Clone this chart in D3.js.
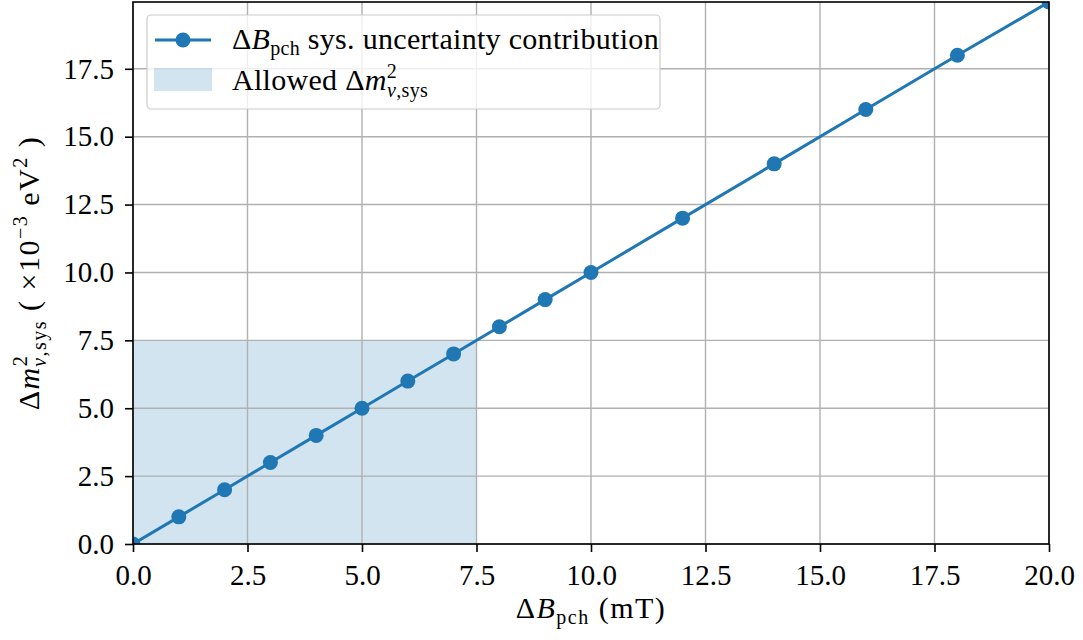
<!DOCTYPE html>
<html>
<head>
<meta charset="utf-8">
<script src="https://cdn.jsdelivr.net/npm/d3@7"></script>
<style>
    body { margin: 0; background: #fff; }
    text { font-family: "Liberation Serif", "DejaVu Serif", serif; fill: #000; }
</style>
</head>
<body>
<svg id="chart" width="1083" height="640"></svg>
<script>
// values
let fieldShift = [0, 1, 2, 3, 4, 5, 6, 7, 8, 9, 10, 12, 14, 16, 18, 20];
let massShift = [0, 1, 2, 3, 4, 5, 6, 7, 8, 9, 10, 12, 14, 16, 18, 19.96];
let allowedLimit = 7.5;
let xTicks = [0, 2.5, 5, 7.5, 10, 12.5, 15, 17.5, 20];
let yTicks = [0, 2.5, 5, 7.5, 10, 12.5, 15, 17.5];

const blue = '#1f77b4';
const fs = 29, fsSmall = 20;
let plotLeft = 133, plotRight = 1049, plotTop = 2, plotBottom = 544;

let svg = d3.select('#chart');
let x = d3.scaleLinear().domain([0, 20]).range([plotLeft, plotRight]);
let y = d3.scaleLinear().domain([0, 19.96]).range([plotBottom, plotTop]);

svg.append('defs').append('clipPath').attr('id', 'plotClip')
    .append('rect')
    .attr('x', plotLeft).attr('y', plotTop)
    .attr('width', plotRight - plotLeft).attr('height', plotBottom - plotTop);

// allowed region
svg.append('rect')
    .attr('x', x(0))
    .attr('y', y(allowedLimit))
    .attr('width', x(allowedLimit) - x(0))
    .attr('height', y(0) - y(allowedLimit))
    .style('fill', blue)
    .style('fill-opacity', 0.2);

// grid
let grid = svg.append('g');
grid.selectAll('line.gx').data(xTicks).join('line')
    .attr('class', 'gx')
    .attr('x1', d => x(d)).attr('x2', d => x(d))
    .attr('y1', plotTop).attr('y2', plotBottom)
    .style('stroke', '#b0b0b0').style('stroke-width', 1.4);
grid.selectAll('line.gy').data(yTicks).join('line')
    .attr('class', 'gy')
    .attr('x1', plotLeft).attr('x2', plotRight)
    .attr('y1', d => y(d)).attr('y2', d => y(d))
    .style('stroke', '#b0b0b0').style('stroke-width', 1.4);

// series
let points = fieldShift.map((d, i) => [d, massShift[i]]);
let plot = svg.append('g').attr('clip-path', 'url(#plotClip)');
plot.append('path')
    .attr('d', d3.line().x(d => x(d[0])).y(d => y(d[1]))(points))
    .style('fill', 'none')
    .style('stroke', blue)
    .style('stroke-width', 3);
plot.selectAll('circle').data(points).join('circle')
    .attr('cx', d => x(d[0]))
    .attr('cy', d => y(d[1]))
    .attr('r', 7.5)
    .style('fill', blue);

// frame
svg.append('rect')
    .attr('x', plotLeft).attr('y', plotTop)
    .attr('width', plotRight - plotLeft).attr('height', plotBottom - plotTop)
    .style('fill', 'none').style('stroke', '#000').style('stroke-width', 1.6);

// axes
let xAxis = svg.append('g')
    .attr('transform', `translate(0, ${plotBottom})`)
    .call(d3.axisBottom(x).tickValues(xTicks).tickFormat(d3.format('.1f')).tickSize(8).tickPadding(12));
let yAxis = svg.append('g')
    .attr('transform', `translate(${plotLeft}, 0)`)
    .call(d3.axisLeft(y).tickValues(yTicks).tickFormat(d3.format('.1f')).tickSize(8).tickPadding(11));
[xAxis, yAxis].forEach(a => {
    a.attr('font-family', '"Liberation Serif", serif').attr('font-size', fs);
    a.select('.domain').remove();
    a.selectAll('line').style('stroke', '#000').style('stroke-width', 1.6);
});

// x label
let xl = svg.append('text')
    .attr('x', (plotLeft + plotRight) / 2)
    .attr('y', 618)
    .attr('text-anchor', 'middle')
    .style('font-size', '30px')
    .style('letter-spacing', '1.5px');
xl.append('tspan').text('Δ');
xl.append('tspan').style('font-style', 'italic').text('B');
xl.append('tspan').attr('dy', 6).style('font-size', fsSmall + 'px').text('pch');
xl.append('tspan').attr('dy', -6).text('  (mT)');

// y label
let yl = svg.append('text')
    .attr('transform', `translate(39, ${(plotTop + plotBottom) / 2}) rotate(-90)`)
    .attr('text-anchor', 'middle')
    .style('font-size', '30px')
    .style('letter-spacing', '1.5px');
yl.append('tspan').text('Δ');
yl.append('tspan').style('font-style', 'italic').text('m');
yl.append('tspan').attr('dy', -12).style('font-size', fsSmall + 'px').text('2');
yl.append('tspan').attr('dx', -12).attr('dy', 19).style('font-size', fsSmall + 'px').style('font-style', 'italic').text('ν');
yl.append('tspan').style('font-size', fsSmall + 'px').text(',sys');
yl.append('tspan').attr('dy', -7).text('  ( ×10');
yl.append('tspan').attr('dy', -12).style('font-size', fsSmall + 'px').text('−3');
yl.append('tspan').attr('dy', 12).text('  eV');
yl.append('tspan').attr('dy', -12).style('font-size', fsSmall + 'px').text('2');
yl.append('tspan').attr('dy', 12).text(' )');

// legend
let legend = svg.append('g');
legend.append('rect')
    .attr('x', 147).attr('y', 15)
    .attr('width', 513).attr('height', 94)
    .attr('rx', 4)
    .style('fill', 'rgba(255,255,255,0.8)')
    .style('stroke', '#cccccc').style('stroke-width', 1.2);
legend.append('line')
    .attr('x1', 155).attr('x2', 211).attr('y1', 40).attr('y2', 40)
    .style('stroke', blue).style('stroke-width', 3);
legend.append('circle').attr('cx', 183).attr('cy', 40).attr('r', 7.5).style('fill', blue);
legend.append('rect')
    .attr('x', 154).attr('y', 68).attr('width', 58).attr('height', 23)
    .style('fill', blue).style('fill-opacity', 0.2);

let t1 = legend.append('text').attr('x', 232).attr('y', 49).style('font-size', '30px').style('letter-spacing', '0.3px');
t1.append('tspan').text('Δ');
t1.append('tspan').style('font-style', 'italic').text('B');
t1.append('tspan').attr('dy', 6).style('font-size', fsSmall + 'px').text('pch');
t1.append('tspan').attr('dy', -6).text(' sys. uncertainty contribution');

let t2 = legend.append('text').attr('x', 232).attr('y', 90).style('font-size', '30px').style('letter-spacing', '0.3px');
t2.append('tspan').text('Allowed Δ');
t2.append('tspan').style('font-style', 'italic').text('m');
t2.append('tspan').attr('dy', -12).style('font-size', fsSmall + 'px').text('2');
t2.append('tspan').attr('dx', -10).attr('dy', 19).style('font-size', fsSmall + 'px').style('font-style', 'italic').text('ν');
t2.append('tspan').style('font-size', fsSmall + 'px').text(',sys');
</script>
</body>
</html>
